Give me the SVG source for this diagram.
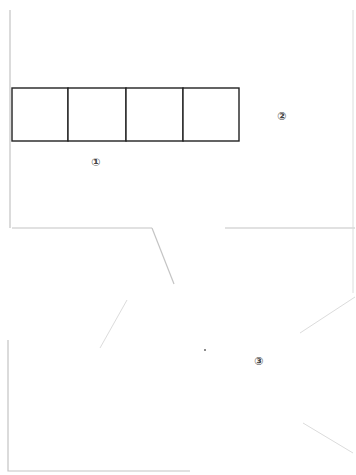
<svg xmlns="http://www.w3.org/2000/svg" width="356" height="475" viewBox="0 0 356 475">
<style>
.frame{fill:none;stroke:#c4c4c4;stroke-width:1.2}
.faint{fill:none;stroke:#dcdcdc;stroke-width:1}
.box{fill:#fff;stroke:#222;stroke-width:1.4}
.lbl{font-family:"DejaVu Sans",sans-serif;font-size:11px;font-weight:bold;fill:#444;text-anchor:middle}
</style>
<rect width="356" height="475" fill="#fff"/>
<g id="connectors">
<path class="frame" d="M10,10 V228 M12,228 H152 M225,228 H355"/>
<path class="faint" d="M353,10 V293"/>
<path class="frame" d="M152,228 L174,284"/>
<path class="faint" d="M127,300 L100,348 M355,297 L300,333 M303,423 L353,453"/>
<path class="frame" d="M8,340 V471 H190"/>
<circle cx="205" cy="350" r="1" fill="#666"/>
</g>
<g id="boxes">
<rect class="box" x="12" y="88" width="56" height="53"/>
<rect class="box" x="68" y="88" width="58" height="53"/>
<rect class="box" x="126" y="88" width="57" height="53"/>
<rect class="box" x="183" y="88" width="56" height="53"/>
</g>
<g id="label1"><text class="lbl" x="96" y="166">①</text></g>
<g id="label2"><text class="lbl" x="282" y="120">②</text></g>
<g id="label3"><text class="lbl" x="259" y="365">③</text></g>
</svg>
